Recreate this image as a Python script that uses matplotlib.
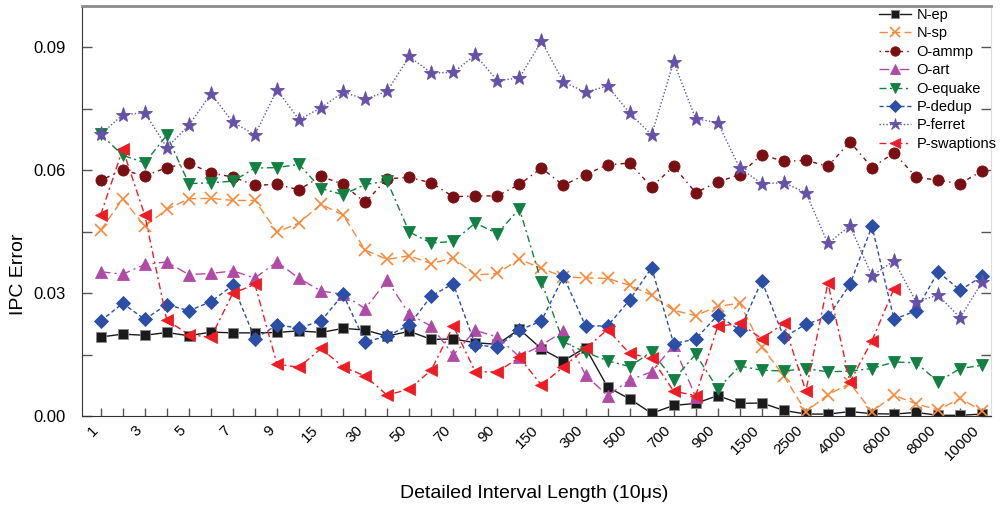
import matplotlib
matplotlib.use("Agg")
import matplotlib.pyplot as plt

plt.rcParams['font.family'] = ['Liberation Sans', 'DejaVu Sans']

intervals = ['1', '2', '3', '4', '5', '6', '7', '8', '9', '10',
             '15', '20', '30', '40', '50', '60', '70', '80', '90', '100',
             '150', '200', '300', '400', '500', '600', '700', '800', '900', '1000',
             '1500', '2000', '2500', '3000', '4000', '5000', '6000', '7000', '8000', '9000',
             '10000']

n_ep = [0.0193, 0.0200, 0.0197, 0.0204, 0.0196, 0.0205, 0.0203, 0.0203, 0.0204, 0.0208,
        0.0204, 0.0214, 0.0210, 0.0195, 0.0207, 0.0187, 0.0188, 0.0179, 0.0175, 0.0212,
        0.0164, 0.0135, 0.0167, 0.0071, 0.0042, 0.0007, 0.0026, 0.0031, 0.0050, 0.0031,
        0.0032, 0.0014, 0.0005, 0.0005, 0.0011, 0.0006, 0.0005, 0.0009, 0.0002, 0.0002,
        0.0005]
n_sp = [0.0453, 0.0530, 0.0463, 0.0504, 0.0530, 0.0531, 0.0526, 0.0526, 0.0449, 0.0471,
        0.0517, 0.0490, 0.0405, 0.0382, 0.0391, 0.0372, 0.0386, 0.0344, 0.0348, 0.0383,
        0.0360, 0.0340, 0.0337, 0.0336, 0.0319, 0.0295, 0.0258, 0.0245, 0.0268, 0.0275,
        0.0169, 0.0098, 0.0011, 0.0052, 0.0080, 0.0011, 0.0051, 0.0030, 0.0015, 0.0043,
        0.0013]
o_ammp = [0.0575, 0.0600, 0.0586, 0.0606, 0.0617, 0.0593, 0.0583, 0.0563, 0.0565, 0.0552,
          0.0585, 0.0565, 0.0521, 0.0579, 0.0582, 0.0569, 0.0535, 0.0537, 0.0537, 0.0565,
          0.0605, 0.0563, 0.0589, 0.0613, 0.0617, 0.0559, 0.0609, 0.0545, 0.0571, 0.0589,
          0.0638, 0.0621, 0.0624, 0.0609, 0.0669, 0.0606, 0.0642, 0.0583, 0.0575, 0.0567,
          0.0598]
o_art = [0.0352, 0.0346, 0.0370, 0.0376, 0.0345, 0.0348, 0.0354, 0.0337, 0.0376, 0.0336,
         0.0305, 0.0297, 0.0262, 0.0331, 0.0249, 0.0219, 0.0149, 0.0209, 0.0193, 0.0145,
         0.0173, 0.0207, 0.0100, 0.0050, 0.0088, 0.0108, 0.0173, 0.0047]
o_equake = [0.0687, 0.0636, 0.0618, 0.0685, 0.0567, 0.0569, 0.0573, 0.0605, 0.0606, 0.0614,
            0.0555, 0.0540, 0.0565, 0.0573, 0.0449, 0.0422, 0.0426, 0.0471, 0.0445, 0.0506,
            0.0327, 0.0181, 0.0156, 0.0135, 0.0121, 0.0157, 0.0089, 0.0151, 0.0067, 0.0122,
            0.0112, 0.0110, 0.0116, 0.0108, 0.0110, 0.0116, 0.0132, 0.0130, 0.0084, 0.0116,
            0.0124]
p_dedup = [0.0232, 0.0275, 0.0236, 0.0272, 0.0257, 0.0279, 0.0319, 0.0189, 0.0222, 0.0215,
           0.0232, 0.0297, 0.0181, 0.0195, 0.0222, 0.0293, 0.0323, 0.0173, 0.0169, 0.0210,
           0.0232, 0.0341, 0.0220, 0.0220, 0.0283, 0.0362, 0.0177, 0.0188, 0.0246, 0.0210,
           0.0330, 0.0192, 0.0224, 0.0242, 0.0321, 0.0463, 0.0236, 0.0257, 0.0352, 0.0307,
           0.0341]
p_ferret = [0.0687, 0.0735, 0.0740, 0.0655, 0.0709, 0.0786, 0.0717, 0.0686, 0.0796, 0.0723,
            0.0752, 0.0790, 0.0773, 0.0792, 0.0877, 0.0837, 0.0838, 0.0881, 0.0818, 0.0825,
            0.0914, 0.0815, 0.0790, 0.0805, 0.0739, 0.0686, 0.0864, 0.0725, 0.0716, 0.0605,
            0.0567, 0.0569, 0.0545, 0.0421, 0.0464, 0.0342, 0.0379, 0.0279, 0.0295, 0.0240,
            0.0327]
p_swaptions = [0.0491, 0.0651, 0.0490, 0.0234, 0.0199, 0.0192, 0.0300, 0.0321, 0.0127, 0.0119,
               0.0165, 0.0120, 0.0098, 0.0051, 0.0066, 0.0112, 0.0220, 0.0108, 0.0108, 0.0143,
               0.0076, 0.0120, 0.0165, 0.0211, 0.0153, 0.0141, 0.0061, 0.0050, 0.0219, 0.0226,
               0.0189, 0.0226, 0.0061, 0.0325, 0.0083, 0.0184, 0.0311]

# (label, values, color, linestyle, marker, markersize)
series = [
    ('N-ep', n_ep, '#1a1a1a', '-', 's', 7),
    ('N-sp', n_sp, '#f58a3c', (0, (6, 3)), 'x', 9),
    ('O-ammp', o_ammp, '#7a0f12', (0, (1, 3, 3, 3)), 'o', 8),
    ('O-art', o_art, '#b04aa6', (0, (7, 3, 1.5, 3)), '^', 8),
    ('O-equake', o_equake, '#128040', (0, (5, 2.5, 1.5, 2.5)), 'v', 8),
    ('P-dedup', p_dedup, '#2b4fa6', (0, (3, 2)), 'D', 7),
    ('P-ferret', p_ferret, '#6650a8', (0, (1, 1.5)), '*', 11),
    ('P-swaptions', p_swaptions, '#ee1c24', (0, (5, 2.5, 1.5, 2.5)), '<', 8.5),
]

fig = plt.figure(figsize=(10.02, 5.05), dpi=100)
ax = fig.add_axes([0.0818, 0.176, 0.9072, 0.812])

for label, vals, color, ls, mk, ms in series:
    xs = list(range(len(vals)))
    mec = '#888888' if mk == 's' else color
    ax.plot(xs, vals, color=color, linestyle=ls, linewidth=1.0, marker=mk,
            markersize=ms, markerfacecolor=color, markeredgecolor=mec,
            markeredgewidth=1.2 if mk == 'x' else 0.6, label=label)

ax.set_xlim(-0.85, 40.4)
ax.set_ylim(0, 0.1)

ax.set_xticks(range(len(intervals)))
ax.set_xticklabels([t if i % 2 == 0 else '' for i, t in enumerate(intervals)],
                   rotation=45, ha='right', fontsize=11)
ax.set_yticks([0, 0.015, 0.03, 0.045, 0.06, 0.075, 0.09])
ax.set_yticklabels(['0.00', '', '0.03', '', '0.06', '', '0.09'], fontsize=12)
ax.tick_params(axis='both', direction='in', length=7, width=1, color='#555555')
ax.tick_params(axis='y', pad=12, right=True)
ax.tick_params(axis='x', pad=5, length=6)

ax.spines['top'].set_color('#8c8c8c')
ax.spines['top'].set_linewidth(2)
ax.spines['right'].set_color('#dddddd')
ax.spines['left'].set_color('#333333')
ax.spines['bottom'].set_color('#333333')

ax.set_ylabel('IPC Error', fontsize=14)
ax.yaxis.set_label_coords(-0.060, 0.345)
ax.set_xlabel('Detailed Interval Length (10\u03bcs)', fontsize=14)
ax.xaxis.set_label_coords(0.498, -0.168)

ax.legend(loc='upper left', frameon=False, fontsize=10.5, handlelength=2.2,
          labelspacing=0.3, handletextpad=0.35, borderpad=0.0, borderaxespad=0.0,
          bbox_to_anchor=(0.877, 0.995), markerscale=0.85)

fig.savefig('out.png', dpi=100)
